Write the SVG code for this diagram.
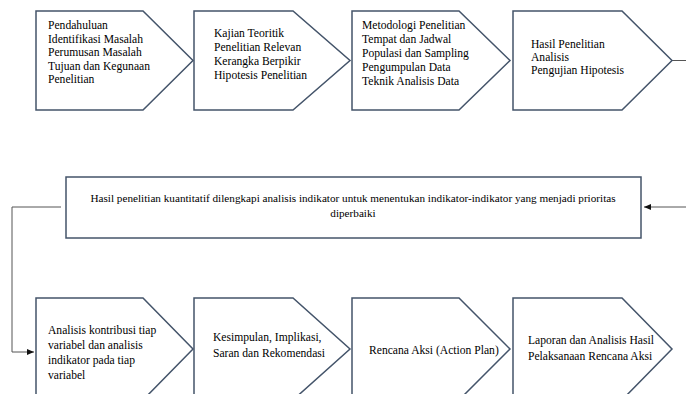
<svg xmlns="http://www.w3.org/2000/svg" width="686" height="394" viewBox="0 0 686 394">
<style>
.n{fill:#fff;stroke:#44546a;stroke-width:1.5}
.c{fill:none;stroke:#555;stroke-width:1}
</style>
<defs>
<marker id="ah" markerWidth="8" markerHeight="8" refX="7" refY="4" orient="auto" markerUnits="userSpaceOnUse">
<path d="M0,1 L7,4 L0,7 Z" fill="#111"/>
</marker>
</defs>
<rect width="686" height="394" fill="#fff"/>
<g id="connectors">
<path class="c" d="M672,60.5 H686"/>
<path class="c" d="M686,207 H644" marker-end="url(#ah)"/>
<path class="c" d="M61,207 H12 V352 H34" marker-end="url(#ah)"/>
</g>
<g font-family="Liberation Serif, Times New Roman, serif" font-size="11.6" fill="#000">
<g id="n1">
<path class="n" d="M36,11 H143 L193,60.5 L143,110 H36 Z"/>
<text x="48" y="29">Pendahuluan</text>
<text x="48" y="42.5">Identifikasi Masalah</text>
<text x="48" y="56">Perumusan Masalah</text>
<text x="48" y="69.5">Tujuan dan Kegunaan</text>
<text x="48" y="83">Penelitian</text>
</g>
<g id="n2">
<path class="n" d="M194,11 H293 L350,60.5 L293,110 H194 Z"/>
<text x="214" y="37">Kajian Teoritik</text>
<text x="214" y="51">Penelitian Relevan</text>
<text x="214" y="65">Kerangka Berpikir</text>
<text x="214" y="79">Hipotesis Penelitian</text>
</g>
<g id="n3">
<path class="n" d="M352,11 H459 L510,60.5 L459,110 H352 Z"/>
<text x="362" y="29">Metodologi Penelitian</text>
<text x="362" y="43">Tempat dan Jadwal</text>
<text x="362" y="57">Populasi dan Sampling</text>
<text x="362" y="71">Pengumpulan Data</text>
<text x="362" y="85">Teknik Analisis Data</text>
</g>
<g id="n4">
<path class="n" d="M513,11 H622 L672,60.5 L622,110 H513 Z"/>
<text x="531" y="48">Hasil Penelitian</text>
<text x="531" y="61">Analisis</text>
<text x="531" y="74">Pengujian Hipotesis</text>
</g>
<g id="n5">
<rect class="n" x="66" y="177" width="575" height="61"/>
<text x="353" y="202" text-anchor="middle" font-size="11.2">Hasil penelitian kuantitatif dilengkapi analisis indikator untuk menentukan indikator-indikator yang menjadi prioritas</text>
<text x="353" y="217" text-anchor="middle" font-size="11.2">diperbaiki</text>
</g>
<g id="n6">
<path class="n" d="M36,298 H143 L193,349 L143,400 H36 Z"/>
<text x="48" y="334">Analisis kontribusi tiap</text>
<text x="48" y="349">variabel dan analisis</text>
<text x="48" y="364">indikator pada tiap</text>
<text x="48" y="379">variabel</text>
</g>
<g id="n7">
<path class="n" d="M194,298 H293 L350,349 L293,400 H194 Z"/>
<text x="213" y="341">Kesimpulan, Implikasi,</text>
<text x="213" y="357">Saran dan Rekomendasi</text>
</g>
<g id="n8">
<path class="n" d="M352,298 H459 L510,349 L459,400 H352 Z"/>
<text x="369" y="354">Rencana Aksi (Action Plan)</text>
</g>
<g id="n9">
<path class="n" d="M513,298 H622 L672,349 L622,400 H513 Z"/>
<text x="528" y="344">Laporan dan Analisis Hasil</text>
<text x="528" y="360">Pelaksanaan Rencana Aksi</text>
</g>
</g>
</svg>
